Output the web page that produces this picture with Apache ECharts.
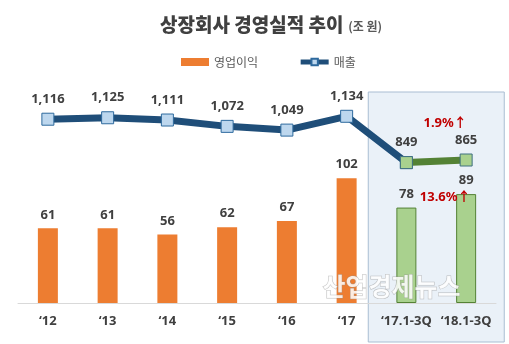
<!DOCTYPE html>
<html><head><meta charset="utf-8">
<script src="https://cdn.jsdelivr.net/npm/echarts@6/dist/echarts.min.js"></script>
<style>html,body{margin:0;padding:0;background:#fff}#c{width:509px;height:344px}</style>
</head><body><div id="c"></div>
<script>
var categories = ['\u201812','\u201813','\u201814','\u201815','\u201816','\u201817','\u201817.1-3Q','\u201818.1-3Q'];
var profit = [61, 61, 56, 62, 67, 102, 78, 89];
var sales = [1116, 1125, 1111, 1072, 1049, 1134, 849, 865];
var salesGrowth = '1.9%\u2191';
var profitGrowth = '13.6%\u2191';
var FONT = '"Noto Sans", "Noto Sans CJK KR", sans-serif';

var chart = echarts.init(document.getElementById('c'), null, {renderer:'canvas'});

var barData = profit.map(function(v,i){
  if (i >= 6) return {value:v, itemStyle:{color:'#A9D18E', borderColor:'#548235', borderWidth:1}};
  return v;
});
var navyData = sales.map(function(v,i){ return i <= 6 ? v : null; });
var greenData = sales.map(function(v,i){
  if (i < 6) return null;
  return {value:v, label:{show: i === 7}};
});

var option = {
  backgroundColor:'#fff',
  textStyle:{fontFamily:FONT},
  animation:false,
  title:{
    left:155, top:10,
    text:'{a|상장회사 경영실적 추이} {b|(조 원)}',
    textStyle:{rich:{
      a:{fontSize:19, fontWeight:900, color:'#404040', fontFamily:'"Noto Sans CJK KR", sans-serif'},
      b:{fontSize:12, color:'#595959', fontFamily:'"Noto Sans CJK KR", sans-serif', padding:[4,0,0,0]}
    }}
  },
  legend:{
    top:51, left:176, itemGap:40,
    data:[{name:'영업이익', itemStyle:{color:'#ED7D31'}, icon:'rect'},
          {name:'매출', lineStyle:{width:5, color:'#1F4E79'}}],
    itemWidth:28, itemHeight:8,
    textStyle:{fontSize:12, color:'#595959', fontFamily:'"Noto Sans CJK KR", sans-serif'}
  },
  grid:{left:18, right:13, top:95, bottom:41},
  xAxis:{
    type:'category', data:categories,
    axisTick:{show:false},
    axisLine:{lineStyle:{color:'#D9D9D9', width:1}},
    axisLabel:{fontSize:13, fontWeight:'bold', color:'#404040', margin:12, interval:0}
  },
  yAxis:[
    {type:'value', min:0, max:170, show:false, splitLine:{show:false}},
    {type:'value', min:-15, max:1265, show:false, splitLine:{show:false}}
  ],
  series:[
    {
      name:'영업이익', type:'bar', data:barData, barWidth:20, z:3,
      itemStyle:{color:'#ED7D31'},
      label:{show:true, position:'top', distance:7, fontSize:13, fontWeight:'bold', color:'#404040'},
      markPoint:{
        symbolSize:0,
        data:[{coord:[7, profit[7]], value:profitGrowth}],
        label:{show:true, formatter:function(){return profitGrowth;}, color:'#C00000', fontSize:13, fontWeight:'bold', offset:[-21,3]}
      }
    },
    {
      name:'매출', type:'line', yAxisIndex:1, data:navyData, z:4,
      symbol:'rect', symbolSize:12,
      lineStyle:{color:'#1F4E79', width:7},
      itemStyle:{color:'#BDD7EE', borderColor:'#2E6A9E', borderWidth:1},
      label:{show:true, position:'top', distance:7, fontSize:13, fontWeight:'bold', color:'#404040',
        formatter:function(p){return p.value.toLocaleString('en-US');}}
    },
    {
      name:'매출2', type:'line', yAxisIndex:1, data:greenData, z:5,
      symbol:'rect', symbolSize:12,
      lineStyle:{color:'#548235', width:7},
      itemStyle:{color:'#A9D18E', borderColor:'#3F7080', borderWidth:1},
      label:{show:false, position:'top', distance:7, fontSize:13, fontWeight:'bold', color:'#404040'},
      markPoint:{
        symbolSize:0,
        data:[{coord:[7, sales[7]], value:salesGrowth}],
        label:{show:true, formatter:function(){return salesGrowth;}, color:'#C00000', fontSize:13, fontWeight:'bold', offset:[-21,-37]}
      }
    }
  ]
};
chart.setOption(option);

var c6 = chart.convertToPixel({xAxisIndex:0}, categories[6]);
var c7 = chart.convertToPixel({xAxisIndex:0}, categories[7]);
var mid = (c6 + c7) / 2;
chart.setOption({
  graphic:[
    {type:'rect', z:-10, silent:true,
      shape:{x:mid-68, y:92, width:136, height:250},
      style:{fill:'#EAF1F8', stroke:'#A9BDD2', lineWidth:1}},
    {type:'text', z:100, silent:true, left:322, top:273,
      style:{text:'산업경제뉴스', font:'bold 25px "Noto Sans CJK KR", sans-serif',
        fill:'rgba(255,255,255,0.85)', stroke:'rgba(150,150,150,0.6)', lineWidth:1}}
  ]
});
</script></body></html>
